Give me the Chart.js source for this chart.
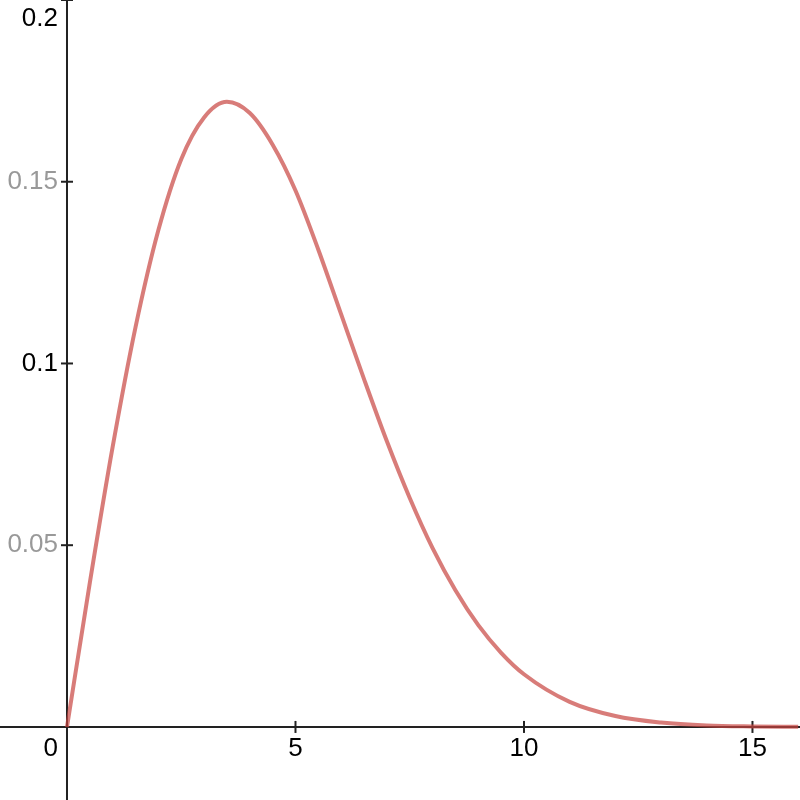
<!DOCTYPE html>
<html>
<head>
<meta charset="utf-8">
<script src="https://cdn.jsdelivr.net/npm/chart.js@4.4.0/dist/chart.umd.min.js"></script>
<style>
  html, body { margin: 0; padding: 0; background: #fff; }
  #wrap { width: 800px; height: 800px; }
</style>
</head>
<body>
<div id="wrap"><canvas id="curve-chart"></canvas></div>
<script>
// values
const xValues = [0, 0.5, 1, 1.5, 2, 2.5, 3, 3.5, 4, 4.5, 5, 5.5, 6, 6.5, 7, 7.5, 8, 8.5, 9, 9.5, 10, 11, 12, 13, 14, 15, 16];
const yValues = [0, 0.0397, 0.0771, 0.11, 0.1367, 0.1562, 0.1677, 0.172, 0.1689, 0.1602, 0.1476, 0.1313, 0.1135, 0.0957, 0.0786, 0.063, 0.0492, 0.0376, 0.028, 0.0204, 0.0145, 0.0069, 0.003, 0.0012, 0.0004, 0.00014, 0.00004];

const xTicks = [0, 5, 10, 15];
const yTicks = [0.05, 0.1, 0.15, 0.2];
const yTickLabels = ["0.05", "0.1", "0.15", "0.2"];
const yMajor = [false, true, false, true];

const points = xValues.map((x, i) => ({ x: x, y: yValues[i] }));

// axes through the origin, desmos style
const originAxes = {
  id: "originAxes",
  beforeDatasetsDraw(chart) {
    const ctx = chart.ctx;
    const xs = chart.scales.x;
    const ys = chart.scales.y;
    const area = chart.chartArea;
    const ox = xs.getPixelForValue(0);
    const oy = ys.getPixelForValue(0);

    ctx.save();
    ctx.strokeStyle = "#222";
    ctx.lineWidth = 2;
    ctx.beginPath();
    ctx.moveTo(area.left, oy);
    ctx.lineTo(area.right, oy);
    ctx.moveTo(ox, area.top);
    ctx.lineTo(ox, area.bottom);
    ctx.stroke();

    ctx.font = "26px 'Liberation Sans', Arial, sans-serif";

    // x ticks
    xTicks.forEach((v) => {
      const px = xs.getPixelForValue(v);
      ctx.fillStyle = "#000";
      ctx.textBaseline = "middle";
      if (v === 0) {
        ctx.textAlign = "right";
        ctx.fillText("0", ox - 9, oy + 22);
        return;
      }
      ctx.beginPath();
      ctx.moveTo(px, oy - 6);
      ctx.lineTo(px, oy + 6);
      ctx.stroke();
      ctx.textAlign = "center";
      ctx.fillText(String(v), px, oy + 22);
    });

    // y ticks
    yTicks.forEach((v, i) => {
      const py = ys.getPixelForValue(v);
      ctx.beginPath();
      ctx.moveTo(ox - 6, py);
      ctx.lineTo(ox + 6, py);
      ctx.stroke();
      ctx.fillStyle = yMajor[i] ? "#000" : "#999";
      ctx.textAlign = "right";
      ctx.textBaseline = "middle";
      ctx.fillText(yTickLabels[i], ox - 9, Math.max(py, area.top + 19));
    });
    ctx.restore();
  },
};

new Chart(document.getElementById("curve-chart"), {
  type: "scatter",
  data: {
    datasets: [
      {
        data: points,
        showLine: true,
        borderColor: "rgba(199, 68, 64, 0.7)",
        borderWidth: 4,
        pointRadius: 0,
        cubicInterpolationMode: "monotone",
        clip: false,
      },
    ],
  },
  options: {
    responsive: true,
    maintainAspectRatio: false,
    animation: false,
    layout: { padding: 0 },
    plugins: {
      legend: { display: false },
      tooltip: { enabled: false },
    },
    scales: {
      x: { type: "linear", min: -1.466, max: 16.04, display: false },
      y: { type: "linear", min: -0.0201, max: 0.2, display: false },
    },
  },
  plugins: [originAxes],
});
</script>
</body>
</html>
